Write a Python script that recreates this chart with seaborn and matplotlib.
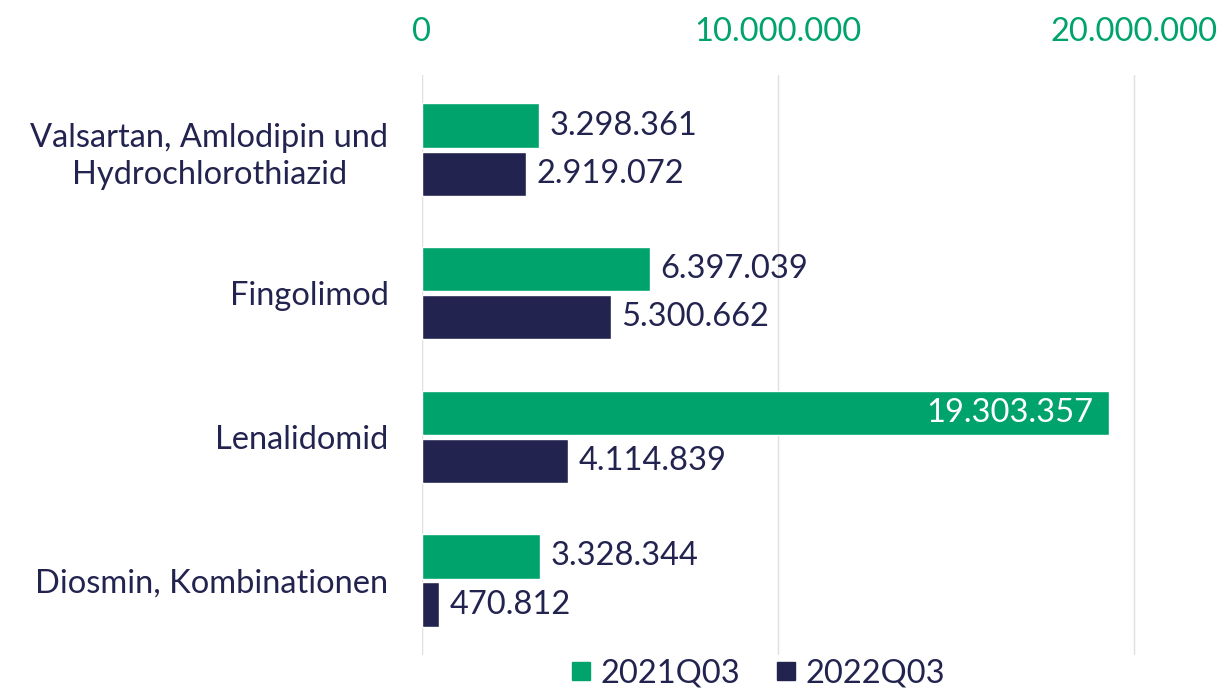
import pandas as pd
import matplotlib.pyplot as plt
import seaborn as sns

# Daten aus dem Diagramm
wirkstoffe = ['Valsartan, Amlodipin und\nHydrochlorothiazid', 'Fingolimod', 'Lenalidomid', 'Diosmin, Kombinationen']
werte_2021 = [3298361, 6397039, 19303357, 3328344]
werte_2022 = [2919072, 5300662, 4114839, 470812]
quartale = ['2021Q03', '2022Q03']

gruen = '#00A36C'
navy = '#232350'

dados = pd.DataFrame({
    'Wirkstoff': wirkstoffe * 2,
    'Wert': werte_2021 + werte_2022,
    'Quartal': [quartale[0]] * 4 + [quartale[1]] * 4,
})

def fmt(v):
    return f'{v:,.0f}'.replace(',', '.')

sns.set_style('white')
plt.rcParams['font.family'] = ['Lato', 'DejaVu Sans']
fs = 23.5

fig = plt.figure(figsize=(12.26, 7), dpi=100)
ax = fig.add_axes([0.344, 0.064, 0.656, 0.829])

sns.barplot(data=dados, y='Wirkstoff', x='Wert', hue='Quartal', orient='h',
            palette=[gruen, navy], saturation=1, width=0.67, gap=0.08, ax=ax, legend=False)

ax.set_xlim(0, 22.58e6)
ax.set_ylim(3.52, -0.52)
ax.set_xticks([0, 10e6, 20e6])
ax.set_xticklabels([fmt(t) for t in [0, 10e6, 20e6]])
ax.xaxis.tick_top()
ax.tick_params(axis='x', colors=gruen, labelsize=fs, length=0, pad=20)
ax.tick_params(axis='y', colors=navy, labelsize=fs, length=0, pad=24)
for lbl in ax.get_yticklabels():
    lbl.set_horizontalalignment('right')
    lbl.set_multialignment('center')
    lbl.set_linespacing(1.3)
ax.grid(axis='x', color='#e0e0e0', linewidth=1)
ax.set_axisbelow(True)
for s in ax.spines.values():
    s.set_visible(False)
ax.set_xlabel('')
ax.set_ylabel('')

# Werte an den Balken
for cont in ax.containers:
    for rect in cont:
        w = rect.get_width()
        yc = rect.get_y() + rect.get_height() / 2
        if w > 15e6:
            ax.text(w - 0.45e6, yc, fmt(w), va='center', ha='right', color='white', fontsize=fs)
        else:
            ax.text(w + 0.3e6, yc, fmt(w), va='center', ha='left', color=navy, fontsize=fs)

# Legende
handles = [plt.Line2D([], [], marker='s', linestyle='', markersize=13, color=c) for c in [gruen, navy]]
fig.legend(handles, quartale, loc='lower center', bbox_to_anchor=(0.617, -0.025), ncol=2, frameon=False,
           fontsize=fs, labelcolor=navy, handlelength=0.8, handletextpad=0.2, columnspacing=1.0)

fig.savefig('out.png', dpi=100)
